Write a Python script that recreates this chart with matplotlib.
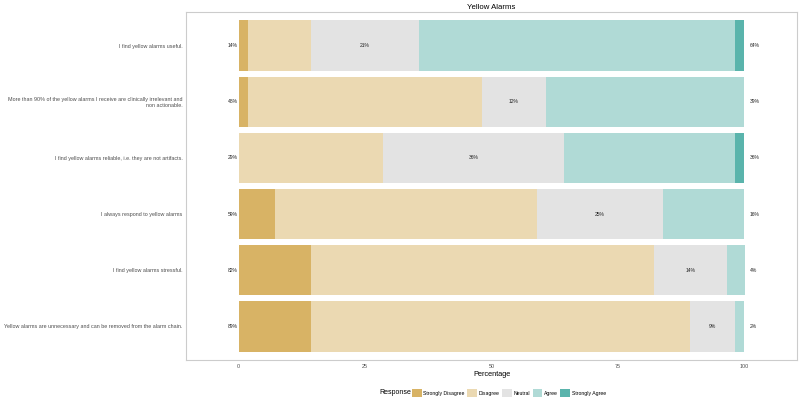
import matplotlib.pyplot as plt
from matplotlib.patches import Patch

plt.rcParams['font.family'] = ['Liberation Sans', 'DejaVu Sans']

# Survey items (top to bottom)
items = [
    "I find yellow alarms useful.",
    "More than 90% of the yellow alarms I receive are clinically irrelevant and\nnon actionable.",
    "I find yellow alarms reliable, i.e. they are not artifacts.",
    "I always respond to yellow alarms",
    "I find yellow alarms stressful.",
    "Yellow alarms are unnecessary and can be removed from the alarm chain.",
]
responses = ["Strongly Disagree", "Disagree", "Neutral", "Agree", "Strongly Agree"]
colors = ["#D8B365", "#EBD9B2", "#E3E3E3", "#B0DAD6", "#5AB4AC"]

# percentages per response level (one list per level, same order as items)
strongly_disagree = [1.8, 1.8, 0.0, 7.1, 14.3, 14.3]
disagree = [12.5, 46.4, 28.6, 51.8, 67.9, 75.0]
neutral = [21.4, 12.5, 35.7, 25.0, 14.3, 8.9]
agree = [62.5, 39.3, 33.9, 16.1, 3.6, 1.8]
strongly_agree = [1.8, 0.0, 1.8, 0.0, 0.0, 0.0]

# labels shown beside / inside the bars
low_labels = ["14%", "48%", "29%", "59%", "82%", "89%"]
neutral_labels = ["21%", "12%", "36%", "25%", "14%", "9%"]
high_labels = ["64%", "39%", "36%", "16%", "4%", "2%"]

series = [strongly_disagree, disagree, neutral, agree, strongly_agree]

fig = plt.figure(figsize=(8, 4), dpi=100)
ax = fig.add_axes([186 / 800, 1 - 360 / 400, (797 - 186) / 800, (360 - 12) / 400])

ypos = list(range(len(items), 0, -1))
left = [0.0] * len(items)
for vals, col in zip(series, colors):
    ax.barh(ypos, vals, left=left, height=0.9, color=col, edgecolor='none')
    left = [l + v for l, v in zip(left, vals)]

lab_col = "#222222"
for i, y in enumerate(ypos):
    ax.text(-0.2, y, low_labels[i], ha='right', va='center', fontsize=3.6, color=lab_col)
    ax.text(101, y, high_labels[i], ha='left', va='center', fontsize=3.6, color=lab_col)
    mid = strongly_disagree[i] + disagree[i] + neutral[i] / 2
    ax.text(mid, y, neutral_labels[i], ha='center', va='center', fontsize=3.6, color=lab_col)

ax.set_xlim(-10.4, 110.4)
ax.set_ylim(0.4, len(items) + 0.6)
ax.set_yticks(ypos)
ax.set_yticklabels(items, fontsize=3.9, color="#4D4D4D", ha='right')
ax.set_xticks([0, 25, 50, 75, 100])
ax.set_xticklabels(["0", "25", "50", "75", "100"], fontsize=3.9, color="#4D4D4D")
ax.tick_params(axis='both', length=0)
ax.tick_params(axis='y', pad=2.5)
ax.tick_params(axis='x', pad=3)
for s in ax.spines.values():
    s.set_color("#CCCCCC")
    s.set_linewidth(0.8)

ax.set_title("Yellow Alarms", fontsize=5.6, pad=2.5)
ax.set_xlabel("Percentage", fontsize=5.3, labelpad=1.5)

handles = [Patch(facecolor=c, edgecolor='none') for c in colors]
fig.text(379 / 800, 1 - 393 / 400, "Response", fontsize=5, va='center', ha='left')
fig.legend(handles, responses, loc='center left', bbox_to_anchor=(412 / 800, 1 - 393 / 400),
           ncol=5, frameon=False, fontsize=3.7, handlelength=1.9, handleheight=1.9,
           handletextpad=0.3, columnspacing=0.5, borderaxespad=0, borderpad=0)

fig.savefig("out.png", dpi=100)
